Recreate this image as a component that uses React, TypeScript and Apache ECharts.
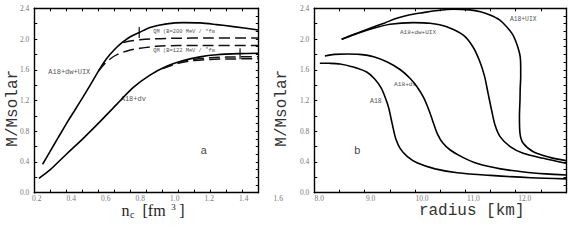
import React, { useEffect, useRef } from "react";
import * as echarts from "echarts";

const MONO = '"Liberation Mono", "DejaVu Sans Mono", monospace';
const SERIF = '"Liberation Serif", "DejaVu Serif", serif';

// ---- Panel a: mass vs central density n_c [fm^-3] ----
const aDwUixN = [0.252, 0.298, 0.35, 0.402, 0.455, 0.506, 0.555, 0.6, 0.65, 0.7, 0.75, 0.8, 0.856, 0.923, 1.027, 1.131, 1.236, 1.34, 1.444, 1.6];
const aDwUixM = [0.37, 0.534, 0.72, 0.903, 1.08, 1.25, 1.42, 1.58, 1.74, 1.86, 1.955, 2.03, 2.085, 2.15, 2.197, 2.214, 2.21, 2.188, 2.162, 2.118];

const aDvN = [0.229, 0.298, 0.35, 0.402, 0.506, 0.611, 0.715, 0.819, 0.923, 1.027, 1.131, 1.236, 1.34, 1.486, 1.6];
const aDvM = [0.187, 0.296, 0.4, 0.504, 0.708, 0.925, 1.15, 1.37, 1.53, 1.645, 1.72, 1.768, 1.795, 1.81, 1.815];

const qm200N = [0.756, 0.8, 0.86, 0.95, 1.07, 1.3, 1.6];
const qm200M = [1.955, 1.975, 1.99, 2.003, 2.01, 2.013, 2.015];

const qm122N = [0.6, 0.64, 0.68, 0.72, 0.78, 0.86, 0.96, 1.1, 1.3, 1.6];
const qm122M = [1.58, 1.68, 1.75, 1.8, 1.845, 1.88, 1.905, 1.915, 1.915, 1.915];

const qmDvN = [1.0, 1.1, 1.2, 1.3, 1.4, 1.6];
const qmDvAM = [1.615, 1.695, 1.735, 1.755, 1.765, 1.77];
const qmDvBM = [1.615, 1.685, 1.72, 1.735, 1.74, 1.745];

const markerN = [0.856, 1.486];
const markerM = [2.085, 1.81];

// ---- Panel b: mass vs radius [km] ----
const bUixR = [8.544, 8.8, 9.106, 9.4, 9.637, 9.9, 10.165, 10.45, 10.76, 11.09, 11.3, 11.49, 11.68, 11.82, 11.93, 11.99, 12.05, 12.09, 12.1, 12.1, 12.09, 12.086, 12.075, 12.086, 12.15, 12.35, 12.68, 13.0];
const bUixM = [1.997, 2.065, 2.14, 2.21, 2.27, 2.315, 2.344, 2.372, 2.388, 2.379, 2.355, 2.314, 2.25, 2.16, 2.07, 1.99, 1.88, 1.77, 1.64, 1.51, 1.35, 1.207, 0.99, 0.773, 0.643, 0.534, 0.46, 0.417];

const bDwUixR = [8.544, 8.8, 9.106, 9.504, 9.97, 10.3, 10.63, 10.96, 11.15, 11.28, 11.38, 11.45, 11.52, 11.59, 11.69, 11.89, 12.15, 12.55, 13.0];
const bDwUixM = [1.997, 2.06, 2.128, 2.193, 2.214, 2.205, 2.16, 2.05, 1.9, 1.72, 1.52, 1.3, 1.08, 0.88, 0.73, 0.6, 0.513, 0.448, 0.383];

const bDvR = [8.21, 8.4, 8.65, 8.9, 9.18, 9.45, 9.71, 9.9, 10.04, 10.17, 10.28, 10.37, 10.45, 10.55, 10.7, 10.95, 11.24, 11.7, 12.16, 12.6, 13.0];
const bDvM = [1.78, 1.8, 1.806, 1.8, 1.77, 1.7, 1.6, 1.49, 1.38, 1.24, 1.07, 0.9, 0.76, 0.65, 0.556, 0.46, 0.38, 0.31, 0.27, 0.245, 0.23];

const bA18R = [8.11, 8.3, 8.51, 8.75, 9.04, 9.2, 9.33, 9.42, 9.48, 9.53, 9.57, 9.62, 9.71, 9.85, 10.04, 10.4, 10.84, 11.5, 12.3, 13.0];
const bA18M = [1.685, 1.684, 1.676, 1.64, 1.57, 1.48, 1.36, 1.22, 1.1, 0.95, 0.83, 0.7, 0.57, 0.47, 0.39, 0.31, 0.26, 0.225, 0.195, 0.18];

const zip = (xs: number[], ys: number[]) => xs.map((x, i) => [x, ys[i]]);

export default function App() {
  const ref = useRef<HTMLDivElement>(null);
  useEffect(() => {
    if (!ref.current) return;
    const chart = echarts.init(ref.current, null, { renderer: "svg" });
    const axisLine = { show: true, onZero: false, lineStyle: { color: "#000", width: 1.4 } };
    const tick = (len: number) => ({ show: true, inside: true, length: len, lineStyle: { color: "#000", width: 1 } });
    const lbl = { fontFamily: SERIF, fontSize: 7.5, color: "#777" };
    const yFmt = (v: number) => (Math.round(v * 10) % 4 === 0 ? v.toFixed(1) : "");
    const frameAxis = (extra: any) => ({
      type: "value",
      splitLine: { show: false },
      axisLine,
      axisLabel: { show: false },
      ...extra,
    });
    const solid = (data: number[][], xi: number, yi: number) => ({
      type: "line",
      data,
      xAxisIndex: xi,
      yAxisIndex: yi,
      showSymbol: false,
      smooth: 0.3,
      lineStyle: { color: "#000", width: 1.6 },
      silent: true,
    });
    const dashed = (data: number[][]) => ({
      ...solid(data, 0, 0),
      lineStyle: { color: "#111", width: 1.5, type: [11, 5] },
    });
    const txt = (text: string, x: number, y: number, size: number, extra: any = {}) => ({
      type: "text",
      x,
      y,
      style: { text, fontFamily: MONO, fontSize: size, fill: "#555", align: "left", verticalAlign: "middle", ...extra },
    });

    chart.setOption({
      animation: false,
      backgroundColor: "#fff",
      grid: [
        { left: 34.3, top: 8.3, width: 224, height: 184.4 },
        { left: 314.3, top: 8.3, width: 251.7, height: 184.4 },
        { left: 36.7, top: 8.3, width: 241.6, height: 184.4 },
        { left: 319.3, top: 8.3, width: 205.4, height: 184.4 },
      ],
      xAxis: [
        frameAxis({ gridIndex: 0, position: "bottom", min: 0.2, max: 1.6, interval: 0.1, axisTick: tick(3) }),
        frameAxis({ gridIndex: 0, position: "top", min: 0.2, max: 1.6, interval: 0.1, axisTick: tick(3) }),
        frameAxis({ gridIndex: 1, position: "bottom", min: 8, max: 13, interval: 0.5, axisTick: tick(3) }),
        frameAxis({ gridIndex: 1, position: "top", min: 8, max: 13, interval: 0.5, axisTick: tick(3) }),
        {
          type: "value", gridIndex: 2, min: 0.2, max: 1.6, interval: 0.2,
          splitLine: { show: false }, axisLine: { show: false }, axisTick: { show: false },
          axisLabel: { ...lbl, margin: 1.5, formatter: (v: number) => v.toFixed(1) },
        },
        {
          type: "value", gridIndex: 3, min: 8, max: 12, interval: 1,
          splitLine: { show: false }, axisLine: { show: false }, axisTick: { show: false },
          axisLabel: { ...lbl, margin: 1.5, formatter: (v: number) => v.toFixed(1) },
        },
      ],
      yAxis: [
        frameAxis({ gridIndex: 0, position: "left", min: 0, max: 2.4, interval: 0.2, axisTick: tick(3), axisLabel: { ...lbl, margin: 5, formatter: yFmt } }),
        frameAxis({ gridIndex: 0, position: "right", min: 0, max: 2.4, interval: 0.1, axisTick: tick(2.5) }),
        frameAxis({ gridIndex: 1, position: "left", min: 0, max: 2.4, interval: 0.2, axisTick: tick(3), axisLabel: { ...lbl, margin: 5, formatter: yFmt } }),
        frameAxis({ gridIndex: 1, position: "right", min: 0, max: 2.4, interval: 0.1, axisTick: tick(2.5) }),
        { type: "value", gridIndex: 2, show: false, min: 0, max: 2.4 },
        { type: "value", gridIndex: 3, show: false, min: 0, max: 2.4 },
      ],
      series: [
        solid(zip(aDwUixN, aDwUixM), 0, 0),
        solid(zip(aDvN, aDvM), 0, 0),
        dashed(zip(qm200N, qm200M)),
        dashed(zip(qm122N, qm122M)),
        dashed(zip(qmDvN, qmDvAM)),
        dashed(zip(qmDvN, qmDvBM)),
        {
          type: "scatter",
          xAxisIndex: 0,
          yAxisIndex: 0,
          data: zip(markerN, markerM),
          symbol: "rect",
          symbolSize: [1.4, 11],
          itemStyle: { color: "#000" },
          silent: true,
        },
        solid(zip(bUixR, bUixM), 2, 2),
        solid(zip(bDwUixR, bDwUixM), 2, 2),
        solid(zip(bDvR, bDvM), 2, 2),
        solid(zip(bA18R, bA18M), 2, 2),
      ],
      graphic: [
        // axis titles
        { type: "text", x: 12.5, y: 108.3, rotation: Math.PI / 2, style: { text: "M/Msolar", fontFamily: MONO, fontSize: 16, fill: "#333", align: "center", verticalAlign: "middle" } },
        { type: "text", x: 282, y: 108.3, rotation: Math.PI / 2, style: { text: "M/Msolar", fontFamily: MONO, fontSize: 16, fill: "#333", align: "center", verticalAlign: "middle" } },
        { type: "text", x: 471.7, y: 211, style: { text: "radius [km]", fontFamily: MONO, fontSize: 16, fill: "#333", align: "center", verticalAlign: "middle" } },
        { type: "text", x: 121.5, y: 210.3, style: { text: "n", fontFamily: SERIF, fontSize: 16, fill: "#222", align: "left", verticalAlign: "middle" } },
        { type: "text", x: 130, y: 214, style: { text: "c", fontFamily: SERIF, fontSize: 10, fill: "#222", align: "left", verticalAlign: "middle" } },
        { type: "text", x: 142.5, y: 210.3, style: { text: "[fm", fontFamily: SERIF, fontSize: 16, fill: "#222", align: "left", verticalAlign: "middle" } },
        { type: "text", x: 171.2, y: 206.5, style: { text: "3", fontFamily: SERIF, fontSize: 9, fill: "#222", align: "left", verticalAlign: "middle" } },
        { type: "text", x: 179.3, y: 210.3, style: { text: "]", fontFamily: SERIF, fontSize: 16, fill: "#222", align: "left", verticalAlign: "middle" } },
        // panel a annotations
        txt("A18+dw+UIX", 48.3, 71.7, 7),
        txt("A18+dv", 120.7, 99.3, 7),
        txt("QM (B=200 MeV /", 153.3, 31.9, 5.4),
        txt("3", 205.8, 29.6, 3.6),
        txt("fm", 208.6, 31.9, 5.4),
        txt("QM (B=122 MeV /", 153.3, 50.8, 5.4),
        txt("3", 205.8, 48.5, 3.6),
        txt("fm", 208.6, 50.8, 5.4),
        txt("a", 200.5, 151, 11, { fill: "#444" }),
        // panel b annotations
        txt("A18+UIX", 510, 19.3, 6.3),
        txt("A18+dw+UIX", 400, 32.3, 6),
        txt("A18+dv", 394, 84, 6.2),
        txt("A18", 370, 101.7, 6.5),
        txt("b", 354, 151, 11, { fill: "#444" }),
      ],
    });
    return () => chart.dispose();
  }, []);
  return <div ref={ref} style={{ position: "absolute", left: 0, top: 0, width: 574, height: 242 }} />;
}
